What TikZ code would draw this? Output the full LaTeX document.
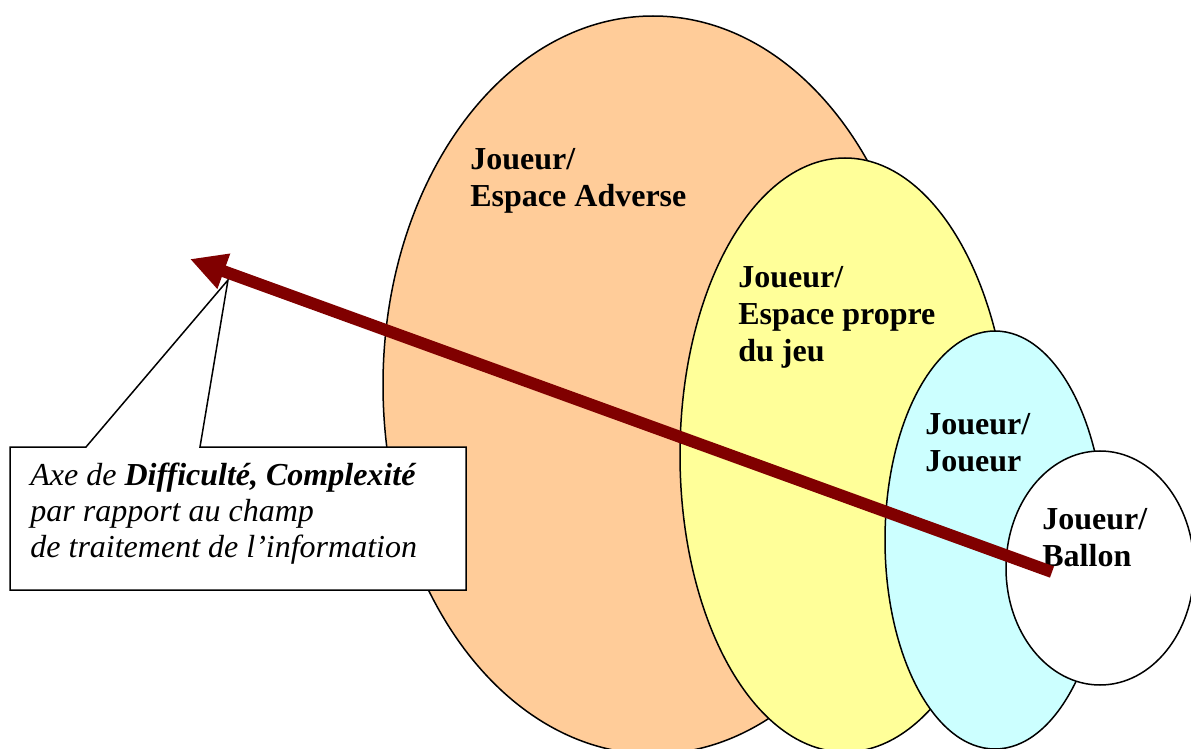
\documentclass[tikz,border=0pt]{standalone}
\usepackage{fontspec}
\setmainfont{Liberation Serif}
\usetikzlibrary{shapes.geometric,arrows.meta}
\definecolor{orangefill}{HTML}{FFCC99}
\definecolor{yellowfill}{HTML}{FFFF99}
\definecolor{cyanfill}{HTML}{CCFFFF}
\definecolor{axisred}{HTML}{800000}
\begin{document}
\begin{tikzpicture}[x=0.5pt,y=-0.5pt,
  oval/.style={ellipse,draw=black,line width=0.75pt,inner sep=0pt,outer sep=0pt},
  lbl/.style={anchor=base west,align=left,inner sep=0pt,font=\fontsize{16}{18.5}\selectfont\bfseries},
  notetext/.style={anchor=base west,align=left,inner sep=0pt,font=\fontsize{16}{18}\selectfont\itshape},
  axis/.style={draw=axisred,line width=6pt,-{Triangle[length=18pt,width=17.5pt]}},
  calloutline/.style={draw=black,fill=white,line width=0.75pt,line join=miter}]
\useasboundingbox (0,0) rectangle (1191,749);
\clip (0,0) rectangle (1191,749);
% ovals
\node[oval,fill=orangefill,minimum width=270pt,minimum height=369pt] (adverse) at (653,385) {};
\node[oval,fill=yellowfill,minimum width=165pt,minimum height=297pt] (propre) at (845,455) {};
\node[oval,fill=cyanfill,minimum width=110pt,minimum height=209pt] (joueur) at (995,540) {};
\node[oval,fill=white,minimum width=94pt,minimum height=117pt] (ballon) at (1100,568) {};
% labels (anchor = baseline of last line)
\node[lbl] (ladverse) at (470,207) {Joueur/\\Espace Adverse};
\node[lbl] (lpropre) at (738,362) {Joueur/\\Espace propre\\du jeu};
\node[lbl] (ljoueur) at (925,472) {Joueur/\\Joueur};
\node[lbl] (lballon) at (1042,567) {Joueur/\\Ballon};
% callout
\coordinate (calltip) at (228,280);
\draw[calloutline] (10,447) -- (86,447) -- (calltip) -- (200,447) -- (466,447) -- (466,590) -- (10,590) -- cycle;
\node[notetext] (note) at (30,557) {Axe de \textbf{Difficulté, Complexité}\\par rapport au champ\\de traitement de l’information};
% axis arrow
\coordinate (axistail) at (1052,572);
\coordinate (axistip) at (190,259);
\draw[axis] (axistail) -- (axistip);
\end{tikzpicture}
\end{document}
